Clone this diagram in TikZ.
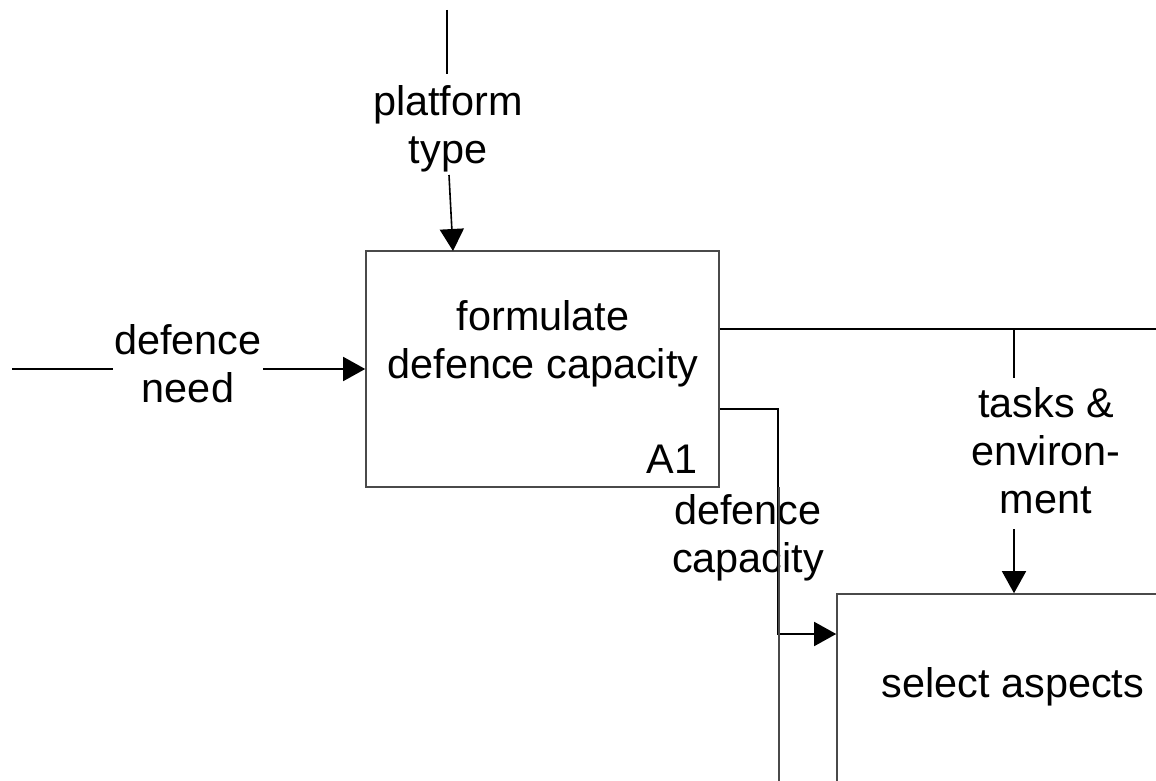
\documentclass[tikz,border=0pt]{standalone}
\usepackage{fontspec}
\setmainfont{Liberation Sans}
\usetikzlibrary{arrows.meta,calc}
\definecolor{boxgray}{HTML}{4A4A4A}
\begin{document}
\begin{tikzpicture}[x=0.5pt,y=-0.5pt,
  lbl/.style={font=\fontsize{20.7}{24}\selectfont, align=center, anchor=base, inner sep=0pt},
  proc/.style={draw=boxgray, line width=0.8pt, minimum width=176.5pt, minimum height=118pt, inner sep=0pt},
  flow/.style={line width=0.8pt, draw=black},
  thin/.style={line width=0.7pt, draw=boxgray},
  arr/.style={flow, -{Triangle[length=11pt,width=12pt]}}]
\clip (0,0) rectangle (1156,781);
\fill[white] (0,0) rectangle (1156,781);

% activity boxes
\node[proc] (A1) at (542.5,369) {};
\node[proc] (B) at (1013.5,712) {};
\node[lbl] (A1txt) at (543,378) {formulate\\defence capacity};
\node[lbl, anchor=base east] (A1num) at (698,473) {A1};
\node[lbl] (Btxt) at (1013,697) {select aspects};

% control: platform type
\coordinate (ptTop) at (447,10);
\coordinate (ptMid) at (447,74);
\coordinate (ptLow) at (449,175);
\coordinate (ptIn) at (453,251);
\draw[flow] (ptTop) -- (ptMid);
\draw[arr] (ptLow) -- (ptIn);
\node[lbl] (ptlab) at (448,163) {platform\\type};

% input: defence need
\coordinate (dnStart) at (12,369);
\coordinate (dnGapL) at (113,369);
\coordinate (dnGapR) at (263,369);
\draw[flow] (dnStart) -- (dnGapL);
\draw[arr] (dnGapR) -- (A1.west);
\node[lbl] (dnlab) at (188,402) {defence\\need};

% output: tasks & environment
\coordinate (teBranch) at (1014,329);
\coordinate (teEnd) at (1160,329);
\coordinate (teGapT) at (1014,378);
\coordinate (teGapB) at (1014,529);
\draw[flow] (A1.east |- teBranch) -- (teEnd);
\draw[flow] (teBranch) -- (teGapT);
\draw[arr] (teGapB) -- (teGapB |- B.north);
\node[lbl] (telab) at (1046,513) {tasks \&\\environ-\\ment};

% output: defence capacity
\coordinate (dcTurn) at (778,409);
\coordinate (dcIn) at (778,634);
\draw[arr] (A1.east |- dcTurn) -- (dcTurn) -- (dcIn) -- (dcIn -| B.west);
\node[lbl] (dclab) at (748,572) {defence\\capacity};

% line running down past the second box
\coordinate (vTop) at (779,487);
\coordinate (vBot) at (779,790);
\draw[thin] (vTop) -- (vBot);
\end{tikzpicture}
\end{document}
